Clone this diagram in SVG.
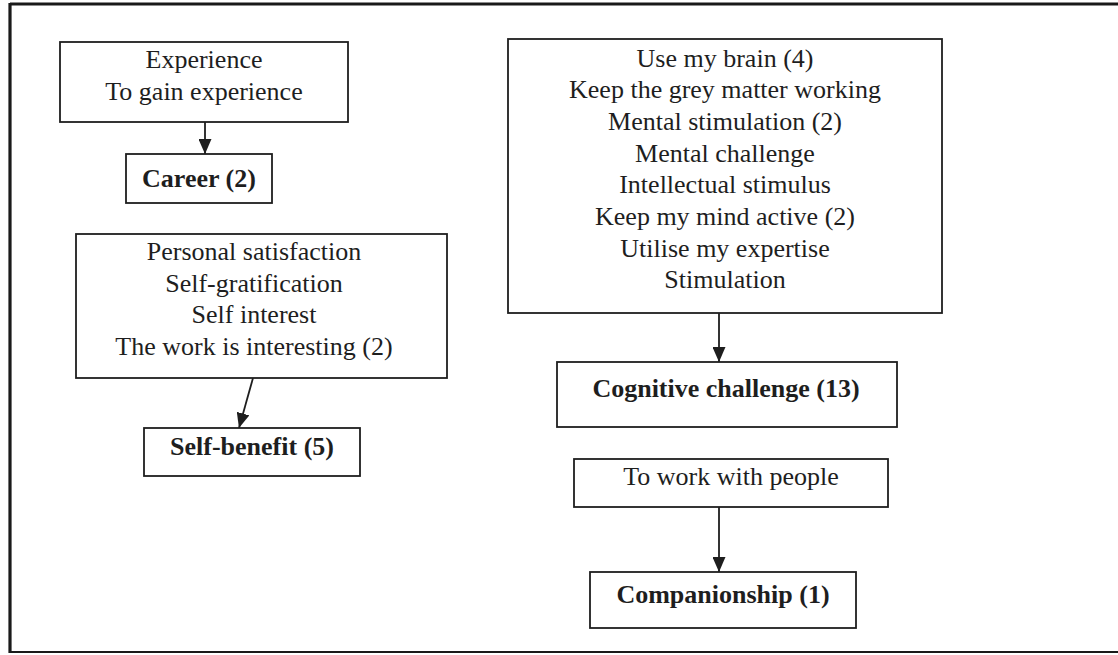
<svg xmlns="http://www.w3.org/2000/svg" width="1118" height="655" viewBox="0 0 1118 655">
  <style>
    .box { fill: #ffffff; stroke: #1e1e1e; stroke-width: 1.8; }
    .frame { fill: none; stroke: #1a1a1a; }
    .txt { font-family: "Liberation Serif", "Times New Roman", serif; font-size: 26px; fill: #1e1e1e; text-anchor: middle; }
    .bold { font-weight: bold; }
    .link { stroke: #1e1e1e; stroke-width: 1.8; fill: none; marker-end: url(#arrow); }
  </style>
  <defs>
    <marker id="arrow" viewBox="0 0 15 13" refX="15" refY="6.5" markerWidth="15" markerHeight="13" markerUnits="userSpaceOnUse" orient="auto">
      <path d="M0,0 L15,6.5 L0,13 Z" fill="#1e1e1e"/>
    </marker>
  </defs>

  <rect width="1118" height="655" fill="#ffffff"/>

  <!-- outer frame (open on the right) -->
  <g id="frame">
    <line class="frame" x1="10" y1="4" x2="1118" y2="4" stroke-width="3"/>
    <line class="frame" x1="10" y1="3" x2="10" y2="653" stroke-width="3.2"/>
    <line class="frame" x1="10" y1="652" x2="1118" y2="652" stroke-width="2.2"/>
  </g>

  <!-- connectors -->
  <g id="connectors">
    <line class="link" x1="205" y1="122" x2="205" y2="154"/>
    <line class="link" x1="253" y1="378" x2="239" y2="428"/>
    <line class="link" x1="719" y1="313" x2="719" y2="362"/>
    <line class="link" x1="719" y1="507" x2="719" y2="572"/>
  </g>

  <g id="experience">
    <rect class="box" x="60" y="42" width="288" height="80"/>
    <text class="txt" x="204" y="68">Experience</text>
    <text class="txt" x="204" y="100">To gain experience</text>
  </g>

  <g id="career">
    <rect class="box" x="126" y="154" width="146" height="49"/>
    <text class="txt bold" x="199" y="187">Career (2)</text>
  </g>

  <g id="satisfaction">
    <rect class="box" x="76" y="234" width="371" height="144"/>
    <text class="txt" x="254" y="260">Personal satisfaction</text>
    <text class="txt" x="254" y="292">Self-gratification</text>
    <text class="txt" x="254" y="323">Self interest</text>
    <text class="txt" x="254" y="355">The work is interesting (2)</text>
  </g>

  <g id="self-benefit">
    <rect class="box" x="144" y="428" width="216" height="48"/>
    <text class="txt bold" x="252" y="455">Self-benefit (5)</text>
  </g>

  <g id="brain">
    <rect class="box" x="508" y="39" width="434" height="274"/>
    <text class="txt" x="725" y="66.7">Use my brain (4)</text>
    <text class="txt" x="725" y="98.3">Keep the grey matter working</text>
    <text class="txt" x="725" y="130">Mental stimulation (2)</text>
    <text class="txt" x="725" y="161.7">Mental challenge</text>
    <text class="txt" x="725" y="193.3">Intellectual stimulus</text>
    <text class="txt" x="725" y="225">Keep my mind active (2)</text>
    <text class="txt" x="725" y="256.7">Utilise my expertise</text>
    <text class="txt" x="725" y="288.3">Stimulation</text>
  </g>

  <g id="cognitive">
    <rect class="box" x="557" y="362" width="340" height="65"/>
    <text class="txt bold" x="726" y="397">Cognitive challenge (13)</text>
  </g>

  <g id="people">
    <rect class="box" x="574" y="459" width="314" height="48"/>
    <text class="txt" x="731" y="485">To work with people</text>
  </g>

  <g id="companionship">
    <rect class="box" x="590" y="572" width="266" height="56"/>
    <text class="txt bold" x="723" y="603">Companionship (1)</text>
  </g>
</svg>
